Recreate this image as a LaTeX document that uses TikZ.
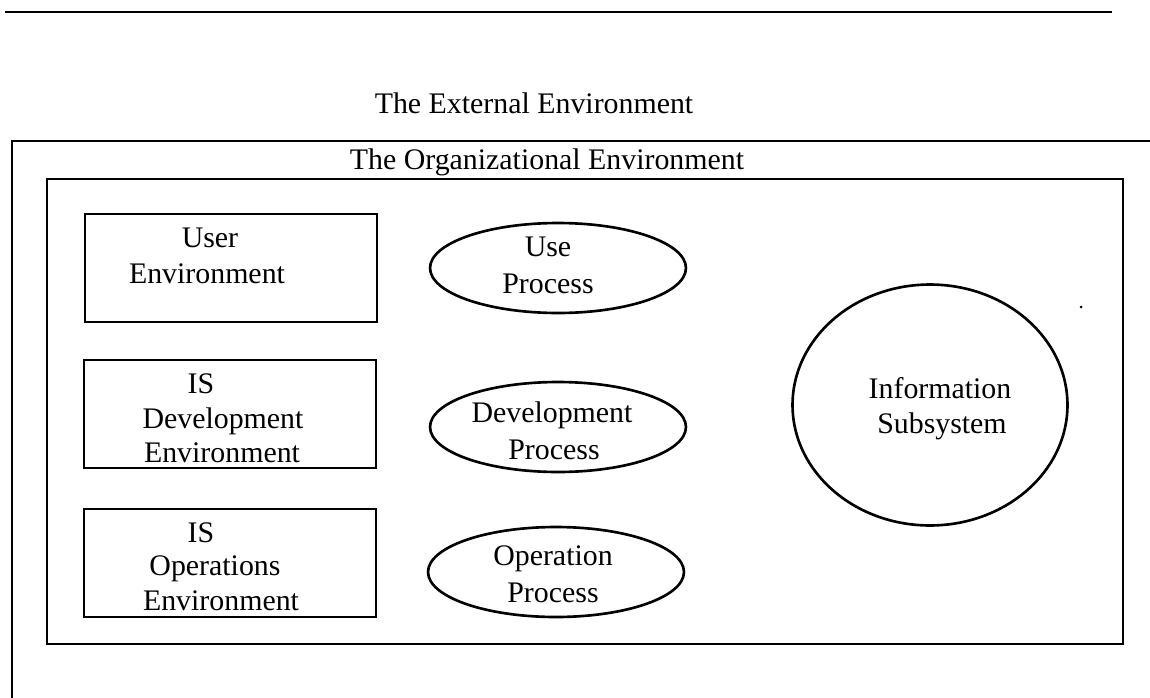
\documentclass[tikz,border=0pt]{standalone}
\usepackage{fontspec}
\setmainfont{Liberation Serif}
\usetikzlibrary{shapes.geometric}

\begin{document}
\begin{tikzpicture}[x=0.02cm, y=-0.02cm, line width=1.5pt,
	envbox/.style = {draw, rectangle, minimum width=5.84cm, minimum height=2.16cm, inner sep=0pt},
	proc/.style = {draw, ellipse, minimum width=5.12cm, minimum height=1.8cm, inner sep=0pt},
	lbl/.style = {anchor=base, inner sep=0pt, font=\fontsize{17}{20}\selectfont}]

	\useasboundingbox (0,0) rectangle (1150,697);

	% rule and the two environment frames
	\draw (5,12) -- (1112,12);
	\draw (12,141) rectangle (1180,730);
	\draw (47,179) rectangle (1123,644);

	\node (external) [lbl] at (534,113) {The External Environment};
	\node (organization) [lbl] at (547,169) {The Organizational Environment};

	% environments
	\node (user) [envbox] at (231,268) {};
	\node (dev) [envbox] at (230,414) {};
	\node (ops) [envbox] at (230,563) {};

	\node (user1) [lbl] at (210,247) {User};
	\node (user2) [lbl] at (207,283) {Environment};
	\node (dev1) [lbl] at (201,393) {IS};
	\node (dev2) [lbl] at (223,428) {Development};
	\node (dev3) [lbl] at (222,462) {Environment};
	\node (ops1) [lbl] at (201,542) {IS};
	\node (ops2) [lbl] at (215,575) {Operations};
	\node (ops3) [lbl] at (221,610) {Environment};

	% processes
	\node (use) [proc] at (558,268) {};
	\node (develop) [proc] at (558,427) {};
	\node (operate) [proc] at (556,572) {};

	\node (use1) [lbl] at (548,256) {Use};
	\node (use2) [lbl] at (548,293) {Process};
	\node (develop1) [lbl] at (552,422) {Development};
	\node (develop2) [lbl] at (554,459) {Process};
	\node (operate1) [lbl] at (553,565) {Operation};
	\node (operate2) [lbl] at (553,602) {Process};

	% information subsystem
	\node (infosys) [draw, ellipse, minimum width=5.5cm, minimum height=4.82cm, inner sep=0pt] at (930,405) {};
	\node (infosys1) [lbl] at (940,398) {Information};
	\node (infosys2) [lbl] at (942,433) {Subsystem};

	\fill (1081,307) circle (1.5);
\end{tikzpicture}
\end{document}
